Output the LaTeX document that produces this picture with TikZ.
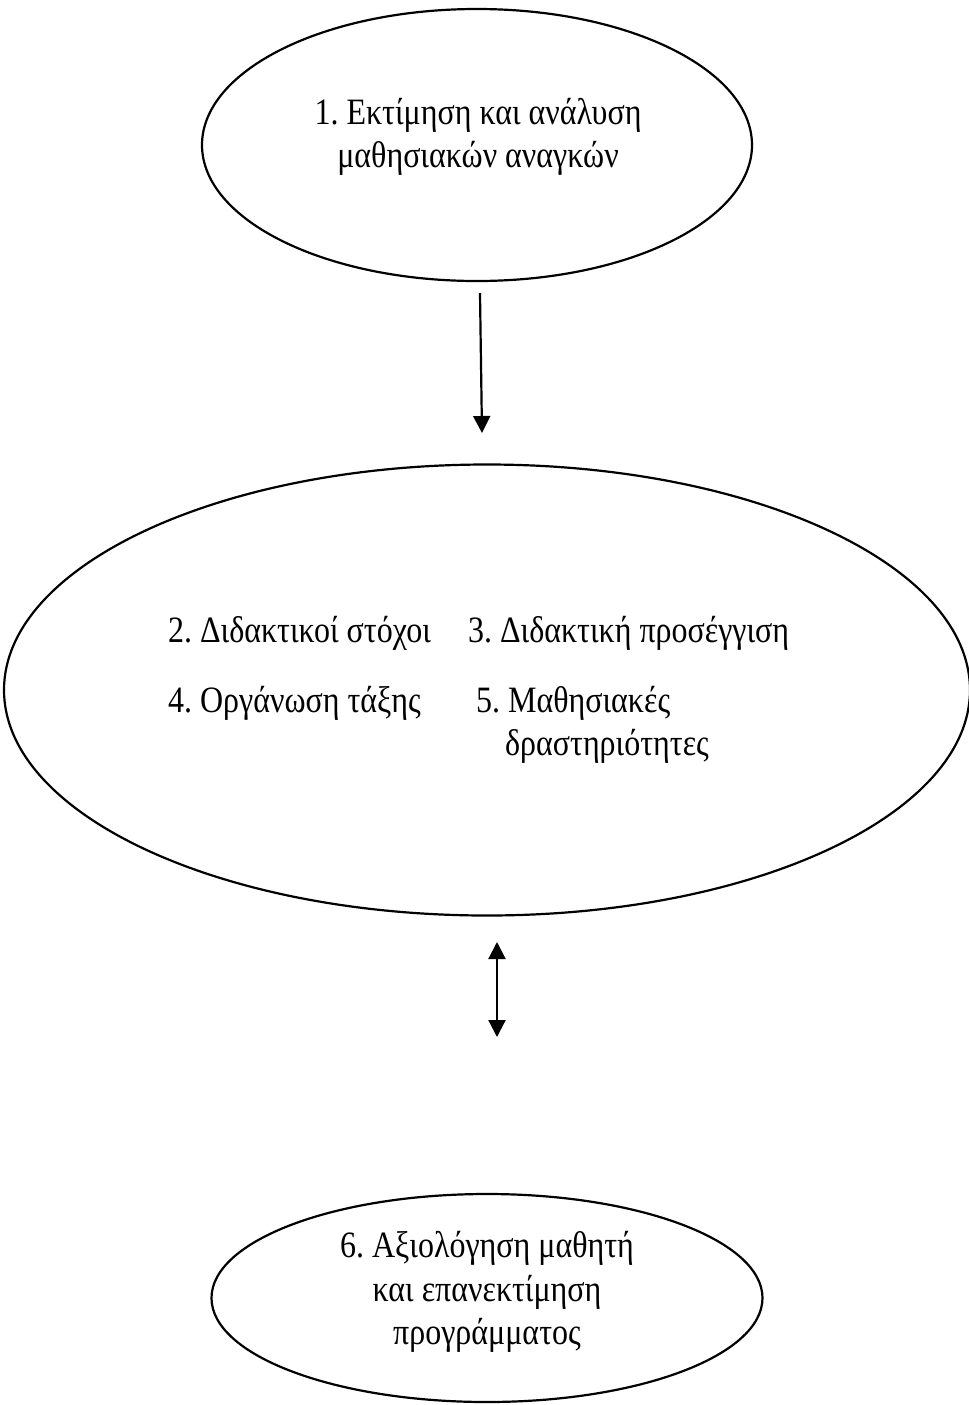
\documentclass[tikz,border=0pt]{standalone}
\usepackage{fontspec}
\setmainfont{Liberation Serif}[FakeStretch=0.86]
\frenchspacing
\usetikzlibrary{shapes.geometric, arrows.meta}

\begin{document}
\begin{tikzpicture}[x=0.25pt, y=-0.25pt, >={Triangle[width=4.25pt,length=4.25pt]},
     line width=0.55pt, font=\fontsize{9.3}{10.9}\selectfont,
     bubble/.style={draw, ellipse, inner sep=0pt, align=center},
     item/.style={anchor=base west, inner sep=0pt}]

  \useasboundingbox (0,0) rectangle (968,1405);

  % the three stages
  \node[bubble, minimum width=137.5pt, minimum height=68pt] (needs) at (477,145) {};
  \node[align=center] (needstext) at (478,137) {1. Εκτίμηση και ανάλυση\\μαθησιακών αναγκών};
  \node[bubble, minimum width=241.5pt, minimum height=112.75pt] (plan) at (487,690) {};
  \node[bubble, minimum width=137.75pt, minimum height=52pt] (eval) at (487,1298) {};
  \node[align=center] (evaltext) at (487,1292)
   {6. Αξιολόγηση μαθητή\\και επανεκτίμηση\\προγράμματος};

  % contents of the middle stage
  \node[item] (goals) at (167,642) {2. Διδακτικοί στόχοι};
  \node[item] (approach) at (467,642) {3. Διδακτική προσέγγιση};
  \node[item] (class) at (167,712) {4. Οργάνωση τάξης};
  \node[item] (act) at (475,712) {5. Μαθησιακές};
  \node[item] (act2) at (504,755) {δραστηριότητες};

  \coordinate (aux0) at (480,293);
  \coordinate (aux1) at (482,433);
  \coordinate (aux2) at (497,942);
  \coordinate (aux3) at (497,1037);

  \path[->] (aux0) edge (aux1);
  \path[<->] (aux2) edge (aux3);
\end{tikzpicture}
\end{document}
